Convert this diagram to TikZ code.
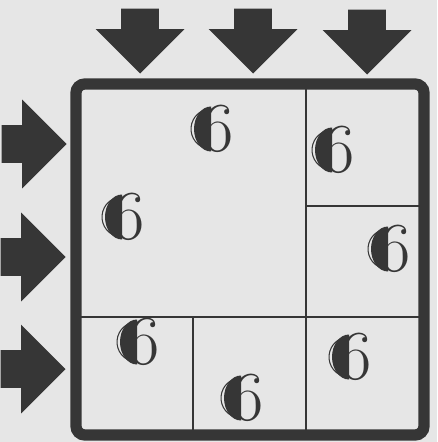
\documentclass[tikz,border=0pt]{standalone}
\usetikzlibrary{shapes.arrows, positioning}
\definecolor{paper}{HTML}{E6E6E6}
\definecolor{ink}{HTML}{363636}

\begin{document}
\begin{tikzpicture}[x=0.02cm, y=-0.02cm]
    \tikzstyle{blockarrow}=[fill=ink, single arrow, inner xsep=0pt, inner ysep=0.37cm, minimum height=1.3cm, single arrow head extend=0.51cm, anchor=tip]
    \tikzstyle{sixlabel}=[inner sep=0pt, text=ink, font=\fontsize{40}{40}\selectfont]

    \fill[paper] (0,0) rectangle (437,442);

    % frame and cells
    \draw[ink, line width=6.4pt, rounded corners=5pt] (76,84) rectangle (424,435);
    \draw[ink, line width=1.4pt] (306,88) -- (306,431);
    \draw[ink, line width=1.4pt] (80,317) -- (420,317);
    \draw[ink, line width=1.4pt] (306,206) -- (420,206);
    \draw[ink, line width=1.4pt] (193,317) -- (193,431);

    % arrows on top
    \node[blockarrow, rotate=-90] (top1) at (140,74) {};
    \node[blockarrow, rotate=-90] (top2) at (253,74) {};
    \node[blockarrow, rotate=-90] (top3) at (367,75) {};

    % arrows on the left
    \node[blockarrow] (left1) at (67,144) {};
    \node[blockarrow] (left2) at (66,257) {};
    \node[blockarrow] (left3) at (66,369) {};

    % the sixes
    \foreach \n/\x/\y in {a/211/129, b/332/150, c/122/217, d/388/249, e/137/342, f/349/357, g/241/398} {
        \node[sixlabel] (six\n) at (\x+7,\y) {6};
        \fill[ink] (\x,\y-22.5) arc[start angle=90, end angle=270, x radius=17, y radius=-22.5] -- cycle;
        \draw[ink, line width=0.6pt] (\x,\y) ++(118:20) arc[start angle=118, end angle=242, radius=20];
    }
\end{tikzpicture}
\end{document}
